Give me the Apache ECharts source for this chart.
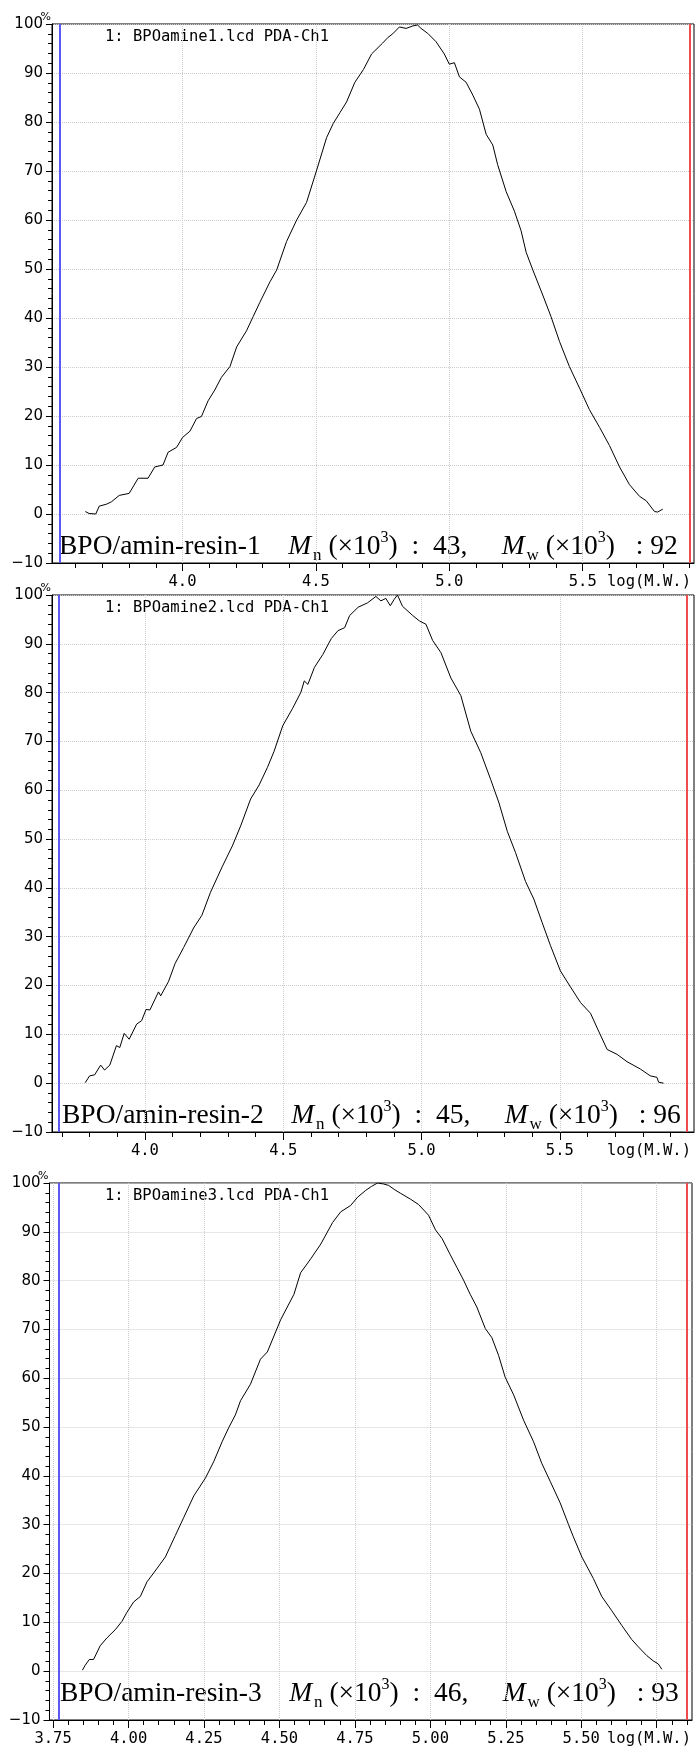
<!DOCTYPE html>
<html>
<head>
<meta charset="utf-8">
<title>GPC - BPO/amin-resin</title>
<script src="https://cdn.jsdelivr.net/npm/echarts@6.0.0/dist/echarts.min.js"></script>
<style>
  html, body { margin: 0; padding: 0; background: #fff; }
  #main { width: 695px; height: 1754px; }
</style>
</head>
<body>
<div id="main"></div>
<script>
// ---- sample info ----
var sampleNames = ['BPO/amin-resin-1', 'BPO/amin-resin-2', 'BPO/amin-resin-3'];
var fileNames = ['1: BPOamine1.lcd PDA-Ch1', '1: BPOamine2.lcd PDA-Ch1', '1: BPOamine3.lcd PDA-Ch1'];
var mnValues = [43, 45, 46]; // Mn (x10^3)
var mwValues = [92, 96, 93]; // Mw (x10^3)

// x range of each panel, log(M.W.)
var xMin = [3.511, 3.664, 3.738];
var xMax = [5.917, 5.985, 5.867];
// blue / red cursor lines
var blueLine = [3.543, 3.695, 3.765];
var redLine = [5.896, 5.965, 5.846];

// ticks
var majorTicks12 = [4.0, 4.5, 5.0, 5.5];
var minorTicks1 = [3.6, 3.7, 3.8, 3.9, 4.1, 4.2, 4.3, 4.4, 4.6, 4.7, 4.8, 4.9, 5.1, 5.2, 5.3, 5.4, 5.6, 5.7, 5.8, 5.9];
var minorTicks2 = [3.7, 3.8, 3.9, 4.1, 4.2, 4.3, 4.4, 4.6, 4.7, 4.8, 4.9, 5.1, 5.2, 5.3, 5.4, 5.6, 5.7, 5.8, 5.9];
var labelTicks3 = [3.75, 4.0, 4.25, 4.5, 4.75, 5.0, 5.25, 5.5];
var majorTicks3 = [3.75, 4.0, 4.25, 4.5, 4.75, 5.0, 5.25, 5.5, 5.75];
var minorTicks3 = [3.8, 3.85, 3.9, 3.95, 4.05, 4.1, 4.15, 4.2, 4.3, 4.35, 4.4, 4.45, 4.55, 4.6, 4.65, 4.7,
  4.8, 4.85, 4.9, 4.95, 5.05, 5.1, 5.15, 5.2, 5.3, 5.35, 5.4, 5.45, 5.55, 5.6, 5.65, 5.7, 5.8, 5.85];

// ---- curves ----
var logMW1 = [3.636, 3.650, 3.675, 3.688, 3.715, 3.734, 3.763, 3.800, 3.834, 3.871, 3.896, 3.927, 3.946, 3.978,
  4.000, 4.028, 4.053, 4.071, 4.096, 4.121, 4.146, 4.178, 4.203, 4.240, 4.265, 4.290, 4.328, 4.353, 4.390, 4.428,
  4.465, 4.503, 4.540, 4.565, 4.590, 4.615, 4.646, 4.678, 4.709, 4.750, 4.769, 4.788, 4.813, 4.838, 4.863, 4.881,
  4.894, 4.919, 4.950, 4.981, 5.000, 5.019, 5.038, 5.063, 5.088, 5.113, 5.138, 5.163, 5.181, 5.213, 5.244, 5.269,
  5.288, 5.313, 5.350, 5.381, 5.413, 5.450, 5.488, 5.525, 5.563, 5.600, 5.638, 5.675, 5.713, 5.738, 5.769, 5.781, 5.800];
var signal1 = [0.5, 0.1, 0.0, 1.6, 2.0, 2.5, 3.8, 4.2, 7.3, 7.3, 9.6, 10.0, 12.6, 13.6,
  15.6, 16.9, 19.5, 19.9, 23.1, 25.3, 27.9, 30.1, 34.1, 37.4, 40.3, 43.2, 47.4, 49.8, 55.6, 60.0,
  63.6, 70.2, 76.8, 79.7, 81.9, 84.1, 88.1, 90.7, 93.9, 96.1, 97.2, 98.0, 99.4, 99.1, 99.6, 99.8,
  99.1, 98.1, 96.4, 93.9, 91.8, 92.1, 89.2, 88.1, 85.5, 82.6, 77.5, 75.3, 71.3, 65.8, 61.8, 57.8,
  53.4, 49.8, 44.7, 40.3, 35.2, 30.1, 25.7, 21.3, 17.7, 14.0, 9.6, 6.0, 3.6, 2.7, 0.5, 0.4, 1.0];

var logMW2 = [3.784, 3.800, 3.818, 3.840, 3.854, 3.873, 3.897, 3.909, 3.925, 3.943, 3.970, 3.988, 4.004, 4.018,
  4.049, 4.057, 4.085, 4.109, 4.140, 4.176, 4.206, 4.237, 4.279, 4.316, 4.346, 4.382, 4.413, 4.443, 4.467, 4.498,
  4.534, 4.564, 4.576, 4.589, 4.613, 4.643, 4.674, 4.698, 4.722, 4.740, 4.771, 4.805, 4.835, 4.853, 4.871, 4.887,
  4.901, 4.913, 4.931, 4.968, 4.992, 5.016, 5.040, 5.070, 5.106, 5.142, 5.178, 5.214, 5.250, 5.280, 5.310, 5.340,
  5.376, 5.406, 5.436, 5.466, 5.502, 5.534, 5.575, 5.611, 5.635, 5.671, 5.707, 5.743, 5.791, 5.827, 5.851, 5.857, 5.875];
var signal2 = [0.1, 1.5, 1.7, 3.7, 2.7, 3.7, 7.7, 7.3, 10.2, 9.0, 12.1, 12.8, 15.1, 15.0,
  18.7, 17.9, 20.8, 24.5, 27.8, 31.8, 34.4, 39.1, 44.3, 48.6, 52.7, 58.2, 61.1, 64.7, 68.0, 73.2,
  76.8, 80.1, 82.4, 81.7, 85.2, 87.8, 91.1, 92.7, 93.3, 95.8, 97.5, 98.4, 99.7, 98.8, 99.3, 97.8,
  99.1, 100.0, 97.7, 95.8, 94.7, 94.0, 90.7, 88.2, 83.0, 79.4, 72.1, 67.7, 62.2, 57.4, 51.6, 47.2,
  41.3, 37.7, 32.9, 28.2, 23.0, 20.1, 16.5, 14.3, 11.3, 6.9, 5.9, 4.4, 2.9, 1.5, 1.2, 0.2, 0.0];

var logMW3 = [3.847, 3.856, 3.870, 3.884, 3.906, 3.928, 3.956, 3.978, 3.994, 4.017, 4.039, 4.061, 4.083, 4.122,
  4.155, 4.183, 4.216, 4.255, 4.282, 4.310, 4.332, 4.354, 4.371, 4.404, 4.437, 4.460, 4.504, 4.548, 4.570, 4.604,
  4.637, 4.676, 4.703, 4.736, 4.759, 4.786, 4.805, 4.825, 4.845, 4.862, 4.880, 4.901, 4.934, 4.961, 4.994, 5.017,
  5.039, 5.066, 5.088, 5.110, 5.132, 5.154, 5.182, 5.204, 5.226, 5.248, 5.276, 5.309, 5.342, 5.369, 5.397, 5.430,
  5.458, 5.474, 5.502, 5.540, 5.568, 5.601, 5.634, 5.667, 5.689, 5.717, 5.739, 5.755, 5.767];
var signal3 = [0.2, 1.2, 2.4, 2.4, 5.2, 6.8, 8.5, 10.2, 12.0, 14.2, 15.3, 18.3, 20.1, 23.4,
  27.8, 31.5, 35.9, 39.6, 42.9, 47.0, 49.9, 52.5, 55.4, 58.8, 63.9, 65.4, 72.0, 77.2, 81.6, 84.5,
  87.5, 91.9, 94.1, 95.4, 97.1, 98.5, 99.3, 100.0, 99.8, 99.5, 98.7, 97.9, 96.7, 95.6, 93.4, 90.4,
  88.6, 85.3, 82.7, 80.1, 77.2, 74.6, 70.2, 68.3, 64.7, 60.2, 56.6, 51.4, 47.0, 42.6, 38.9, 34.5,
  30.0, 27.5, 23.4, 19.0, 15.3, 12.4, 9.4, 6.5, 5.0, 3.2, 2.1, 1.5, 0.4];

// ---- layout ----
var panels = [
  { top: 24, height: 539, left: 52, right: 1, textX: 59, textLift: 7 },
  { top: 595, height: 537, left: 52, right: 1, textX: 62, textLift: 7 },
  { top: 1183, height: 537, left: 49.5, right: 3, textX: 60, textLift: 17 }
];
var curves = [[logMW1, signal1], [logMW2, signal2], [logMW3, signal3]];
var majorTicks = [majorTicks12, majorTicks12, majorTicks3];
var labelTicks = [majorTicks12, majorTicks12, labelTicks3];
var minorTicks = [minorTicks1, minorTicks2, minorTicks3];
var majorStep = [0.5, 0.5, 0.25];
var minorStep = [0.1, 0.1, 0.05];
var decimals = [1, 1, 2];

var MONO = "'DejaVu Sans Mono', 'Liberation Mono', monospace";
var SANS = "'DejaVu Sans', 'Liberation Sans', sans-serif";
var SERIF = "'Liberation Serif', 'Times New Roman', serif";
var gridLineStyle = { color: '#cccccc', width: 1, type: [1, 1] };

var chart = echarts.init(document.getElementById('main'));

var grids = [], xAxes = [], yAxes = [], series = [], graphics = [];

panels.forEach(function (p, i) {
  grids.push({
    left: p.left, right: p.right, top: p.top, height: p.height,
    show: true, borderColor: '#000', borderWidth: 1,
    outerBoundsMode: 'none'
  });

  // major ticks, labels and vertical grid lines
  xAxes.push({
    type: 'value', gridIndex: i, position: 'bottom',
    min: xMin[i], max: xMax[i],
    minInterval: majorStep[i], maxInterval: majorStep[i],
    axisLine: { show: true, onZero: false, lineStyle: { color: '#000', width: 1 } },
    axisTick: { show: true, length: 8, customValues: majorTicks[i], lineStyle: { color: '#000' } },
    axisLabel: {
      show: true, customValues: labelTicks[i], margin: 11,
      color: '#000', fontFamily: MONO, fontSize: 15.5,
      formatter: (function (d) { return function (v) { return v.toFixed(d); }; })(decimals[i])
    },
    splitLine: { show: true, lineStyle: gridLineStyle }
  });
  // minor ticks
  xAxes.push({
    type: 'value', gridIndex: i, position: 'bottom',
    min: xMin[i], max: xMax[i],
    minInterval: minorStep[i], maxInterval: minorStep[i],
    axisLine: { show: false, onZero: false },
    axisTick: { show: true, length: 5, customValues: minorTicks[i], lineStyle: { color: '#000' } },
    axisLabel: { show: false },
    splitLine: { show: false }
  });

  yAxes.push({
    type: 'value', gridIndex: i, min: -10, max: 100, interval: 10,
    axisLine: { show: true, onZero: false, lineStyle: { color: '#000', width: 1 } },
    axisTick: { show: true, length: 6, lineStyle: { color: '#000' } },
    minorTick: { show: true, splitNumber: 5, length: 4, lineStyle: { color: '#000' } },
    axisLabel: {
      margin: 9, color: '#000', fontFamily: SANS, fontSize: 15,
      formatter: function (v) { return v < 0 ? '\u2212' + Math.abs(v) : String(v); }
    },
    splitLine: { show: true, lineStyle: gridLineStyle }
  });

  var xs = curves[i][0], ys = curves[i][1];
  series.push({
    type: 'line', xAxisIndex: 2 * i, yAxisIndex: i,
    data: xs.map(function (x, k) { return [x, ys[k]]; }),
    showSymbol: false, symbol: 'none',
    lineStyle: { color: '#000', width: 1 },
    z: 5,
    markLine: {
      silent: true, symbol: ['none', 'none'], animation: false,
      label: { show: false },
      data: [
        { xAxis: blueLine[i], lineStyle: { color: '#5a5af2', width: 2, type: 'solid' } },
        { xAxis: redLine[i], lineStyle: { color: '#f04c4c', width: 2, type: 'solid' } }
      ]
    }
  });

  var bottom = p.top + p.height;
  graphics.push({
    type: 'text', x: 105, y: p.top + 13,
    style: { text: fileNames[i], fontFamily: MONO, fontSize: 15.5, fill: '#000', verticalAlign: 'middle' }
  });
  graphics.push({
    type: 'text', x: p.left - 1, y: p.top - 1,
    style: { text: '%', fontFamily: SANS, fontSize: 11, fill: '#000', align: 'right', verticalAlign: 'bottom' }
  });
  graphics.push({
    type: 'text', x: 691, y: bottom + 11,
    style: { text: 'log(M.W.)', fontFamily: MONO, fontSize: 15.5, fill: '#000', align: 'right', verticalAlign: 'top' }
  });
  graphics.push({
    type: 'text', x: p.textX, y: bottom - p.textLift - 9,
    style: {
      text: '{t|' + sampleNames[i] + '    }{i|M}{sub|n}{t| (\u00d710}{sup|3}{t|)  :  ' + mnValues[i] + ',     }' +
            '{i|M}{sub|w}{t| (\u00d710}{sup|3}{t|)   : ' + mwValues[i] + '}',
      fill: '#000', verticalAlign: 'middle',
      fontFamily: SERIF, fontSize: 27.5,
      rich: {
        t: { fontFamily: SERIF, fontSize: 27.5, lineHeight: 34, fill: '#000' },
        i: { fontFamily: SERIF, fontSize: 27.5, fontStyle: 'italic', lineHeight: 34, fill: '#000' },
        sub: { fontFamily: SERIF, fontSize: 17, lineHeight: 17, verticalAlign: 'bottom', padding: [0, 0, 0, 2], fill: '#000' },
        sup: { fontFamily: SERIF, fontSize: 16, lineHeight: 16, verticalAlign: 'top', fill: '#000' }
      }
    }
  });
});

chart.setOption({
  animation: false,
  backgroundColor: '#fff',
  grid: grids,
  xAxis: xAxes,
  yAxis: yAxes,
  series: series,
  graphic: graphics
});
</script>
</body>
</html>
